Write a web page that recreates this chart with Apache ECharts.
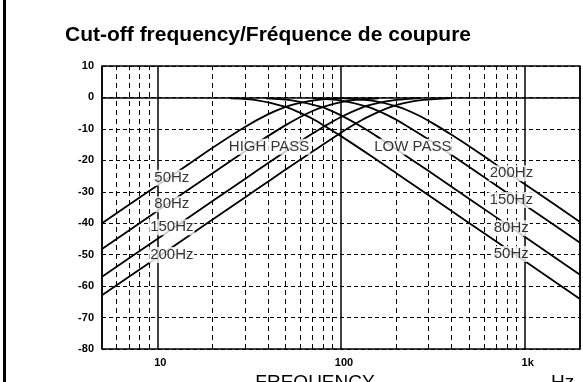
<!DOCTYPE html>
<html><head><meta charset="utf-8">
<script src="https://cdn.jsdelivr.net/npm/echarts@6/dist/echarts.min.js"></script>
<style>html,body{margin:0;padding:0;background:#fff}#c{width:583px;height:382px}</style>
</head><body><div id="c"></div>
<script>
// ---- data ----
const xTickLabels = {10: '10', 100: '100', 1000: '1k'};
const yMin = -80, yMax = 10, yStep = 10;
const xMin = 5, xMax = 2000;
const minorFreqs = [6, 7, 8, 9, 20, 30, 40, 50, 60, 70, 80, 90, 200, 300, 400, 500, 600, 700, 800, 900];

// High-pass curves [Hz, dB]
const hp50  = [[5,-40.0],[10,-28.0],[15,-21.0],[20,-16.0],[30,-9.4],[40,-5.4],[50,-3.0],[60,-1.7],[70,-1.0],[80,-0.6],[100,-0.3]];
const hp80  = [[5,-48.2],[10,-36.1],[20,-24.1],[30,-17.1],[40,-12.3],[50,-8.8],[60,-6.2],[70,-4.3],[80,-3.0],[100,-1.5],[120,-0.8],[160,-0.3]];
const hp150 = [[5,-57.0],[10,-45.0],[20,-32.9],[30,-25.9],[40,-20.9],[50,-17.1],[60,-14.0],[70,-11.5],[80,-9.4],[100,-6.2],[133,-3.0],[150,-2.1],[200,-0.8],[270,-0.2]];
const hp200 = [[5,-62.9],[10,-50.9],[20,-38.8],[30,-31.8],[40,-26.8],[50,-22.9],[70,-17.2],[100,-11.2],[130,-7.2],[160,-4.6],[187,-3.0],[220,-1.8],[280,-0.8],[400,-0.2]];
// Low-pass curves [Hz, dB]
const lp50  = [[25,-0.3],[35,-0.9],[50,-3.0],[60,-4.9],[70,-6.8],[80,-8.8],[100,-12.3],[150,-19.1],[200,-24.1],[300,-31.1],[500,-40.0],[1000,-52.0],[2000,-64.1]];
const lp80  = [[39,-0.3],[55,-1.0],[78,-3.0],[100,-5.7],[130,-9.4],[160,-12.7],[200,-16.5],[300,-23.4],[500,-32.3],[1000,-44.3],[2000,-56.4]];
const lp150 = [[70,-0.3],[100,-1.0],[140,-3.0],[180,-5.7],[220,-8.5],[300,-13.4],[400,-18.3],[600,-25.3],[1000,-34.2],[2000,-46.2]];
const lp200 = [[100,-0.2],[150,-1.1],[205,-3.0],[260,-5.5],[320,-8.4],[400,-11.9],[550,-17.2],[800,-23.7],[1200,-30.7],[2000,-39.6]];

// Annotations [Hz, dB, text]
const annotations = [
  [12, -25.5, '50Hz'], [12, -34.0, '80Hz'], [12, -41.3, '150Hz'], [12, -50.1, '200Hz'],
  [40.6, -15.7, 'HIGH PASS'], [246, -15.7, 'LOW PASS'],
  [847, -24.1, '200Hz'], [845, -32.6, '150Hz'], [845, -41.6, '80Hz'], [845, -49.8, '50Hz']
];
const titleText = 'Cut-off frequency/Fréquence de coupure';
const xName = 'FREQUENCY';
const xUnit = 'Hz';

// ---- chart ----
const FONT = 'Liberation Sans, Arial, sans-serif';
const chart = echarts.init(document.getElementById('c'), null, {renderer: 'canvas'});
const curveStyle = {color: '#000', width: 1.8};
function curve(d) {
  return {type: 'line', data: d, showSymbol: false, symbol: 'none', smooth: 0.3,
          lineStyle: curveStyle, itemStyle: {color: '#000'}, z: 3, silent: true, animation: false};
}
chart.setOption({
  animation: false,
  backgroundColor: '#fff',
  title: {text: titleText, left: 65, top: 25, padding: 0,
          textStyle: {fontFamily: FONT, fontSize: 21, fontWeight: 'bold', color: '#000'}},
  grid: {left: 102, right: 3, top: 66, bottom: 33, show: true, borderColor: '#000', borderWidth: 1.5},
  xAxis: {
    type: 'log', logBase: 10, min: xMin, max: xMax,
    axisLine: {show: false}, axisTick: {show: false},
    splitLine: {show: true, lineStyle: {color: '#000', width: 1.5}},
    axisLabel: {margin: 8, color: '#000', fontFamily: FONT, fontSize: 11, fontWeight: 'bold',
                padding: [0, 0, 0, 6], formatter: v => xTickLabels[Math.round(v)] || ''}
  },
  yAxis: {
    type: 'value', min: yMin, max: yMax, interval: yStep,
    axisLine: {show: false}, axisTick: {show: false},
    splitLine: {show: true, lineStyle: {color: '#000', width: 1, type: [4, 3]}},
    axisLabel: {margin: 8, color: '#000', fontFamily: FONT, fontSize: 11, fontWeight: 'bold'}
  },
  graphic: [
    {type: 'line', shape: {x1: 4.5, y1: 0, x2: 4.5, y2: 382}, style: {stroke: '#000', lineWidth: 3}},
    {type: 'text', x: 315, y: 373, style: {text: xName, align: 'center', fill: '#000', font: '19px ' + FONT}},
    {type: 'text', x: 551, y: 373, style: {text: xUnit, align: 'left', fill: '#000', font: '19px ' + FONT}}
  ],
  series: [
    {type: 'line', data: [], z: 1, silent: true,
     markLine: {silent: true, symbol: 'none', label: {show: false}, animation: false,
       data: minorFreqs.map(f => ({xAxis: f, lineStyle: {color: '#000', width: 1, type: [5, 4]}}))
         .concat([{yAxis: 0, lineStyle: {color: '#000', width: 1.5, type: 'solid'}}])}},
    curve(hp50), curve(hp80), curve(hp150), curve(hp200),
    curve(lp50), curve(lp80), curve(lp150), curve(lp200),
    {type: 'scatter', z: 10, silent: true, symbolSize: 1, itemStyle: {color: 'rgba(0,0,0,0)'},
     data: annotations.map(a => ({value: [a[0], a[1]], name: a[2]})),
     label: {show: true, position: 'inside', formatter: p => p.name, color: '#000',
             fontFamily: FONT, fontSize: 15, backgroundColor: '#fff', padding: [1, 1, 0, 1]}}
  ]
});
</script></body></html>
